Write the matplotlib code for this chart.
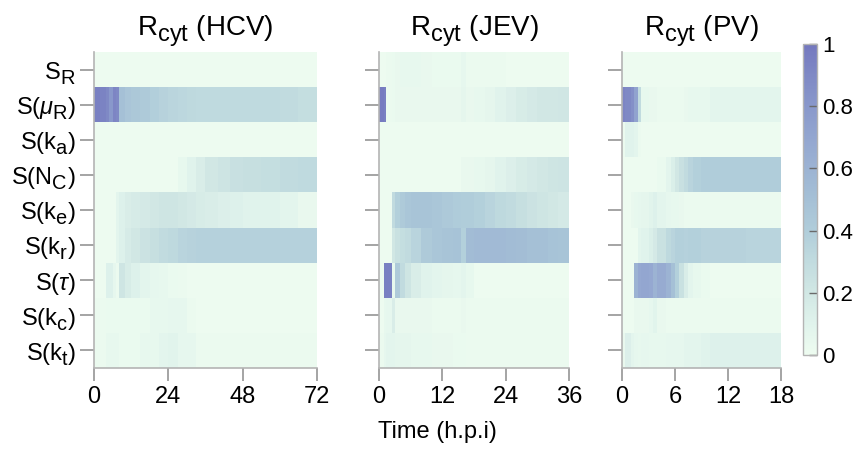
import numpy as np
import matplotlib.pyplot as plt
import matplotlib._mathtext as mathtext_core
from matplotlib.colors import LinearSegmentedColormap

# ---------- Row labels (sensitivity indices) ----------
row_labels = [r'S$_R$', r'S($\mathit{\mu}_R$)', r'S(k$_a$)', r'S(N$_C$)', r'S(k$_e$)',
              r'S(k$_r$)', r'S($\mathit{\tau}$)', r'S(k$_c$)', r'S(k$_t$)']

# ---------- HCV: time bins [h] and sensitivity values ----------
hcv_edges = [0, 2, 4, 5, 6, 7, 8, 10, 12, 15, 18, 21, 24, 27, 30, 33, 36, 40, 44, 48, 54, 60, 66, 72]
hcv_SR   = [0.01] * 23
hcv_muR  = [0.95, 0.93, 0.90, 0.80, 0.92, 0.90, 0.50, 0.46, 0.44, 0.42, 0.39, 0.36, 0.34, 0.33,
            0.32, 0.31, 0.31, 0.31, 0.31, 0.31, 0.31, 0.30, 0.28]
hcv_ka   = [0.01] * 23
hcv_NC   = [0.01, 0.01, 0.01, 0.01, 0.01, 0.01, 0.01, 0.01, 0.01, 0.01, 0.01, 0.01, 0.01, 0.05,
            0.10, 0.15, 0.20, 0.23, 0.26, 0.27, 0.28, 0.30, 0.31]
hcv_ke   = [0.01, 0.01, 0.01, 0.01, 0.01, 0.08, 0.12, 0.15, 0.17, 0.18, 0.20, 0.22, 0.22, 0.20,
            0.18, 0.16, 0.15, 0.13, 0.12, 0.10, 0.10, 0.08, 0.04]
hcv_kr   = [0.01, 0.01, 0.01, 0.01, 0.01, 0.08, 0.12, 0.17, 0.20, 0.24, 0.27, 0.30, 0.32, 0.35,
            0.36, 0.37, 0.37, 0.37, 0.37, 0.37, 0.37, 0.37, 0.37]
hcv_tau  = [0.01, 0.01, 0.12, 0.12, 0.06, 0.02, 0.22, 0.16, 0.12, 0.08, 0.06, 0.05, 0.03, 0.02,
            0.01, 0.01, 0.01, 0.01, 0.01, 0.01, 0.01, 0.01, 0.01]
hcv_kc   = [0.02, 0.02, 0.03, 0.03, 0.03, 0.03, 0.03, 0.03, 0.03, 0.03, 0.05, 0.05, 0.06, 0.06,
            0.02, 0.01, 0.01, 0.01, 0.01, 0.01, 0.01, 0.01, 0.01]
hcv_kt   = [0.02, 0.02, 0.05, 0.05, 0.05, 0.05, 0.03, 0.03, 0.03, 0.05, 0.05, 0.08, 0.09, 0.06,
            0.06, 0.02, 0.02, 0.02, 0.02, 0.02, 0.02, 0.02, 0.02]

# ---------- JEV ----------
jev_edges = [0, 1, 1.4, 2.5, 3, 4, 5, 6, 8, 10, 12, 14, 15.5, 16.5, 18, 20, 22, 24, 26, 28, 30, 32, 34, 36]
jev_SR   = [0.01, 0.01, 0.02, 0.03, 0.04, 0.05, 0.05, 0.05, 0.04, 0.03, 0.03, 0.03, 0.06, 0.02,
            0.02, 0.02, 0.02, 0.01, 0.01, 0.01, 0.01, 0.01, 0.01]
jev_muR  = [0.98, 0.95, 0.02, 0.03, 0.04, 0.04, 0.04, 0.04, 0.04, 0.04, 0.04, 0.04, 0.07, 0.04,
            0.05, 0.07, 0.10, 0.13, 0.16, 0.18, 0.20, 0.20, 0.21]
jev_ka   = [0.01] * 23
jev_NC   = [0.01, 0.01, 0.01, 0.01, 0.01, 0.01, 0.01, 0.01, 0.01, 0.01, 0.01, 0.01, 0.04, 0.04,
            0.05, 0.07, 0.10, 0.13, 0.16, 0.18, 0.20, 0.22, 0.23]
jev_ke   = [0.01, 0.01, 0.01, 0.30, 0.38, 0.42, 0.45, 0.47, 0.47, 0.45, 0.43, 0.41, 0.40, 0.40,
            0.38, 0.35, 0.32, 0.30, 0.27, 0.24, 0.22, 0.20, 0.18]
jev_kr   = [0.01, 0.01, 0.01, 0.20, 0.25, 0.28, 0.30, 0.35, 0.42, 0.45, 0.47, 0.48, 0.38, 0.53,
            0.55, 0.55, 0.55, 0.53, 0.52, 0.50, 0.50, 0.48, 0.47]
jev_tau  = [0.01, 0.95, 0.95, 0.05, 0.42, 0.30, 0.22, 0.15, 0.10, 0.08, 0.07, 0.06, 0.08, 0.05,
            0.01, 0.01, 0.01, 0.01, 0.01, 0.01, 0.01, 0.01, 0.01]
jev_kc   = [0.01, 0.05, 0.06, 0.15, 0.04, 0.04, 0.04, 0.04, 0.04, 0.02, 0.02, 0.02, 0.04, 0.02,
            0.02, 0.02, 0.02, 0.02, 0.02, 0.02, 0.02, 0.02, 0.02]
jev_kt   = [0.02, 0.06, 0.08, 0.08, 0.07, 0.07, 0.07, 0.05, 0.05, 0.04, 0.04, 0.03, 0.03, 0.02,
            0.02, 0.02, 0.02, 0.02, 0.02, 0.02, 0.02, 0.02, 0.02]

# ---------- PV ----------
pv_edges = [0, 0.3, 1, 1.4, 1.8, 2.2, 3, 3.5, 4, 5, 5.5, 6, 6.5, 7, 7.5, 8, 9, 10, 12, 14, 16, 18]
pv_SR    = [0.01] * 21
pv_muR   = [0.92, 0.90, 0.85, 0.72, 0.30, 0.05, 0.04, 0.04, 0.02, 0.02, 0.02, 0.02, 0.02, 0.04,
            0.05, 0.05, 0.05, 0.08, 0.08, 0.08, 0.08]
pv_ka    = [0.02, 0.10, 0.10, 0.08, 0.02, 0.01, 0.01, 0.01, 0.01, 0.01, 0.01, 0.01, 0.01, 0.01,
            0.01, 0.01, 0.01, 0.01, 0.01, 0.01, 0.01]
pv_NC    = [0.01, 0.01, 0.01, 0.01, 0.01, 0.01, 0.01, 0.01, 0.03, 0.08, 0.14, 0.20, 0.26, 0.30,
            0.35, 0.38, 0.40, 0.40, 0.40, 0.40, 0.40]
pv_ke    = [0.01, 0.01, 0.04, 0.05, 0.06, 0.07, 0.09, 0.12, 0.08, 0.06, 0.05, 0.05, 0.04, 0.02,
            0.02, 0.02, 0.02, 0.02, 0.02, 0.02, 0.02]
pv_kr    = [0.01, 0.01, 0.01, 0.01, 0.08, 0.10, 0.14, 0.18, 0.25, 0.32, 0.35, 0.38, 0.38, 0.37,
            0.38, 0.38, 0.36, 0.36, 0.36, 0.35, 0.35]
pv_tau   = [0.01, 0.01, 0.01, 0.60, 0.68, 0.70, 0.68, 0.60, 0.66, 0.60, 0.50, 0.38, 0.25, 0.15,
            0.08, 0.05, 0.03, 0.01, 0.01, 0.01, 0.01]
pv_kc    = [0.01, 0.01, 0.01, 0.04, 0.04, 0.04, 0.06, 0.09, 0.04, 0.02, 0.02, 0.02, 0.02, 0.02,
            0.02, 0.02, 0.02, 0.02, 0.02, 0.02, 0.02]
pv_kt    = [0.04, 0.13, 0.08, 0.06, 0.05, 0.06, 0.05, 0.05, 0.05, 0.06, 0.06, 0.06, 0.06, 0.08,
            0.08, 0.08, 0.10, 0.12, 0.12, 0.12, 0.12]

panels = [
    ('HCV', hcv_edges, [hcv_SR, hcv_muR, hcv_ka, hcv_NC, hcv_ke, hcv_kr, hcv_tau, hcv_kc, hcv_kt], [0, 24, 48, 72]),
    ('JEV', jev_edges, [jev_SR, jev_muR, jev_ka, jev_NC, jev_ke, jev_kr, jev_tau, jev_kc, jev_kt], [0, 12, 24, 36]),
    ('PV', pv_edges, [pv_SR, pv_muR, pv_ka, pv_NC, pv_ke, pv_kr, pv_tau, pv_kc, pv_kt], [0, 6, 12, 18]),
]

# ---------- Style ----------
plt.rcParams['font.family'] = ['Liberation Sans', 'DejaVu Sans']
plt.rcParams['mathtext.fontset'] = 'custom'
plt.rcParams['mathtext.rm'] = 'Liberation Sans'
plt.rcParams['mathtext.it'] = 'Liberation Sans:italic'
plt.rcParams['mathtext.default'] = 'regular'
# larger, lower subscripts
mathtext_core.SHRINK_FACTOR = 0.85
mathtext_core.FontConstantsBase.sub1 = 0.45
mathtext_core.FontConstantsBase.sub2 = 0.6

cmap = LinearSegmentedColormap.from_list('mint_blue', [
    (0.0, '#eefcf0'), (0.1, '#e0f3ec'), (0.2, '#d1e7e4'), (0.3, '#c1dbdf'),
    (0.4, '#b0cdda'), (0.5, '#a5c0d6'), (0.6, '#9cb3d3'), (0.7, '#93a6d0'),
    (0.8, '#8998cb'), (0.9, '#7f89c5'), (1.0, '#7478bf')])

spine_col = '#b4b4b4'

fig = plt.figure(figsize=(8.57, 4.59), dpi=100)
boxes = [(0.1097, 0.260), (0.4422, 0.2217), (0.7258, 0.1855)]
bottom, height = 0.1983, 0.6885

for i, (name, edges, rows, xt) in enumerate(panels):
    ax = fig.add_axes([boxes[i][0], bottom, boxes[i][1], height])
    data = np.array(rows)
    mesh = ax.pcolormesh(edges, np.arange(len(rows) + 1), data, cmap=cmap,
                         vmin=0, vmax=1, shading='flat')
    ax.set_xlim(edges[0], edges[-1])
    ax.set_ylim(len(rows), 0)
    ax.set_xticks(xt)
    ax.set_xticklabels([str(v) for v in xt], fontsize=17)
    ax.set_yticks(np.arange(len(rows)) + 0.5)
    if i == 0:
        ax.set_yticklabels(row_labels, fontsize=17)
    else:
        ax.set_yticklabels([])
    for s in ['top', 'right']:
        ax.spines[s].set_visible(False)
    for s in ['left', 'bottom']:
        ax.spines[s].set_color(spine_col)
        ax.spines[s].set_linewidth(1.2)
    ax.tick_params(axis='y', direction='out', length=10, width=1.1, color='#8c8c8c', pad=3)
    ax.tick_params(axis='x', direction='out', length=9, width=1.1, color='#8c8c8c', pad=4)
    ax.set_title(r'R$_{cyt}$ (%s)' % name, fontsize=20, pad=12)

# ---------- Colorbar ----------
cax = fig.add_axes([0.937, 0.2266, 0.0163, 0.6776])
cb = fig.colorbar(mesh, cax=cax)
cb.set_ticks([0, 0.2, 0.4, 0.6, 0.8, 1])
cb.set_ticklabels(['0', '0.2', '0.4', '0.6', '0.8', '1'])
cb.outline.set_edgecolor(spine_col)
cb.outline.set_linewidth(1.0)
cax.tick_params(direction='in', length=6, width=1.0, color='#6a6a6a', labelsize=16, pad=4)

fig.text(0.51, 0.058, 'Time (h.p.i)', ha='center', va='center', fontsize=17)

plt.savefig('out.png', dpi=100)
